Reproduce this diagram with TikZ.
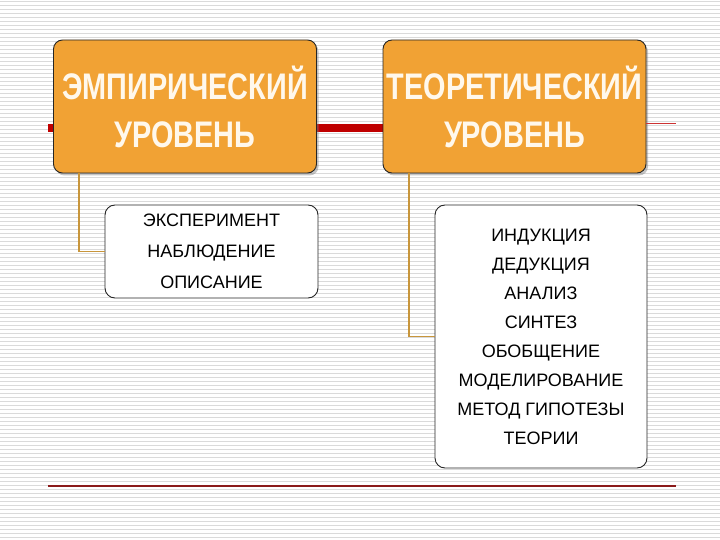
\documentclass[tikz,border=0pt]{standalone}
\usepackage{fontspec}
\setmainfont{Liberation Sans}
\usetikzlibrary{shadows}
\definecolor{orangebox}{HTML}{F1A234}
\definecolor{stripe}{HTML}{DADADA}
\definecolor{redbar}{HTML}{C00000}
\definecolor{conn}{HTML}{C8963C}
\definecolor{bottomline}{HTML}{8B1A1A}
\definecolor{headtext}{HTML}{FFF8EC}
\tikzset{
  header/.style={draw=black!85, line width=0.9pt, fill=orangebox, rounded corners=9pt,
    minimum width=263pt, minimum height=133pt, inner sep=0pt, text=headtext, align=center,
    font=\bfseries\fontsize{37}{48}\selectfont,
    drop shadow={shadow xshift=2pt, shadow yshift=-2.5pt, opacity=0.45}},
  listbox/.style={draw=black!85, line width=0.9pt, fill=white, rounded corners=10pt,
    inner sep=0pt, align=center, text=black},
  connector/.style={draw=conn, line width=1.6pt},
  stripeline/.style={draw=stripe, line width=1.3pt},
}
\begin{document}
\begin{tikzpicture}[x=1pt,y=-1pt]
\useasboundingbox (0,0) rectangle (720,540);
\fill[white] (0,0) rectangle (720,540);
\foreach \i in {0,...,134} \draw[stripeline] (0,\i*4+1.5) -- (720,\i*4+1.5);
% red bar behind headers
\coordinate (rbL) at (48,128);
\coordinate (rbR) at (384,128);
\draw[redbar, line width=7.5pt] (rbL) -- (rbR);
\coordinate (trR) at (676,123);
% header boxes
\node[header] (emp) at (185,106.5) {\scalebox{0.78}[1]{ЭМПИРИЧЕСКИЙ}\\\scalebox{0.78}[1]{УРОВЕНЬ}};
\node[header] (teo) at (514.5,106.5) {\scalebox{0.78}[1]{ТЕОРЕТИЧЕСКИЙ}\\\scalebox{0.78}[1]{УРОВЕНЬ}};
\draw[redbar!80, line width=0.9pt] (teo.east |- trR) -- (trR);
% list boxes
\node[listbox, minimum width=213pt, minimum height=93pt, font=\fontsize{18}{31}\selectfont] (empl) at (211.5,251.5)
  {ЭКСПЕРИМЕНТ\\НАБЛЮДЕНИЕ\\ОПИСАНИЕ};
\node[listbox, minimum width=212pt, minimum height=263pt, font=\fontsize{18}{29}\selectfont] (teol) at (541,336.5)
  {ИНДУКЦИЯ\\ДЕДУКЦИЯ\\АНАЛИЗ\\СИНТЕЗ\\ОБОБЩЕНИЕ\\МОДЕЛИРОВАНИЕ\\МЕТОД ГИПОТЕЗЫ\\ТЕОРИИ};
% connectors
\coordinate (c1) at (79,0);
\coordinate (c2) at (409,0);
\draw[connector] (emp.south -| c1) |- (empl.west);
\draw[connector] (teo.south -| c2) |- (teol.west);
% bottom line
\coordinate (bl) at (48,486);
\coordinate (br) at (676,486);
\draw[bottomline, line width=1.1pt] (bl) -- (br);
\end{tikzpicture}
\end{document}
